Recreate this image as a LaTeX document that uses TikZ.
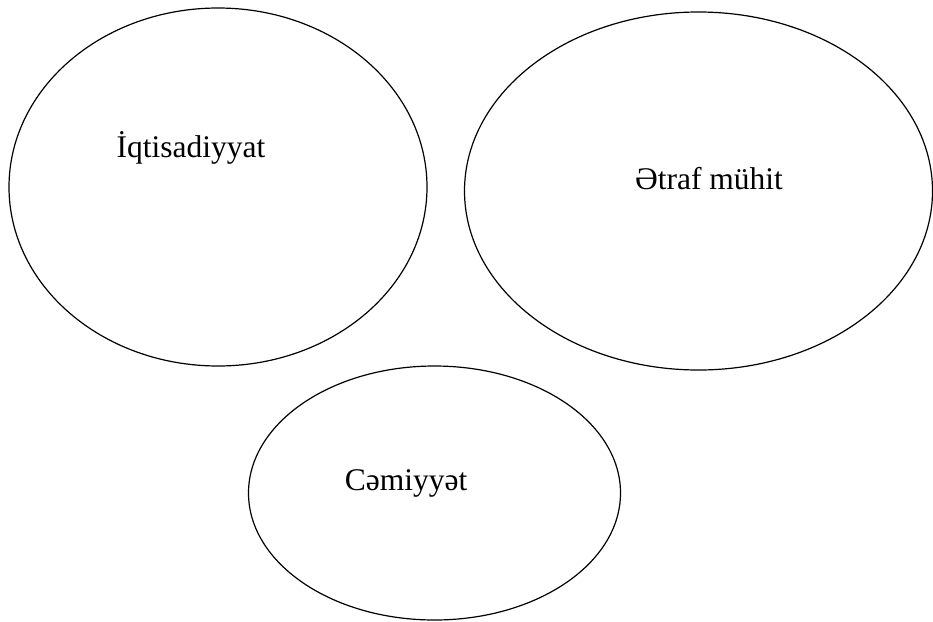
\documentclass[tikz,border=0pt]{standalone}
\usepackage{fontspec}
\setmainfont{Liberation Serif}
\begin{document}
\begin{tikzpicture}[x=1pt,y=-1pt,
  blob/.style={draw=black,line width=1.2pt},
  lbl/.style={font=\fontsize{31.5}{36}\selectfont,inner sep=0pt,anchor=base}]
\useasboundingbox (0,0) rectangle (933,621);
\draw[blob] (218,187) ellipse [x radius=209, y radius=179];
\draw[blob] (698.5,191) ellipse [x radius=234, y radius=179];
\draw[blob] (434.5,493) ellipse [x radius=186, y radius=127];
\node[lbl] (a) at (191,157) {İqtisadiyyat};
\node[lbl] (b) at (709,189) {Ətraf mühit};
\node[lbl] (c) at (406,490) {Cəmiyyət};
\end{tikzpicture}
\end{document}
